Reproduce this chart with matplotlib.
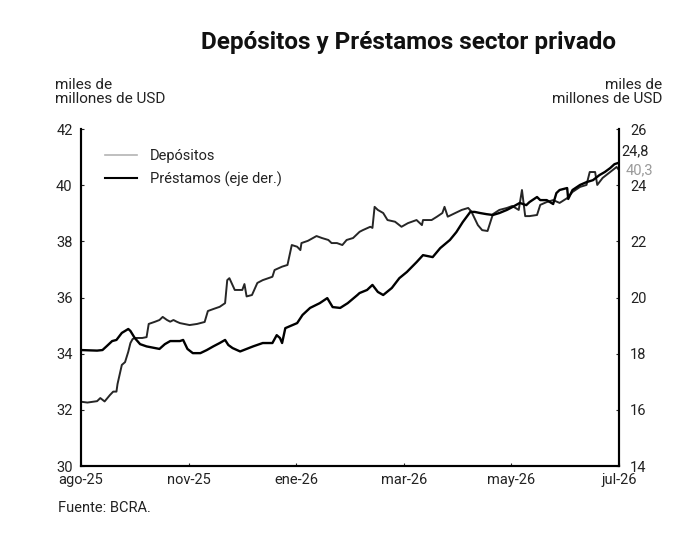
import matplotlib.pyplot as plt
from matplotlib.lines import Line2D

plt.rcParams['font.family'] = ['Roboto', 'DejaVu Sans']

# posicion en el eje x (0 = ago-25, 5 = jul-26, marcas cada dos meses)
tick_pos = [0, 1, 2, 3, 4, 5]
tick_labels = ["ago-25", "nov-25", "ene-26", "mar-26", "may-26", "jul-26"]

# Depositos (eje izq., miles de millones de USD)
dep_x = [0.00, 0.06, 0.15, 0.18, 0.22, 0.27, 0.30, 0.33, 0.34, 0.38, 0.41, 0.44, 0.46, 0.48,
         0.50, 0.57, 0.61, 0.63, 0.69, 0.73, 0.76, 0.80, 0.83, 0.86, 0.89, 0.92, 1.01, 1.08,
         1.15, 1.18, 1.23, 1.29, 1.34, 1.36, 1.38, 1.43, 1.50, 1.52, 1.54, 1.59, 1.64, 1.69,
         1.78, 1.80, 1.87, 1.92, 1.96, 2.01, 2.04, 2.05, 2.11, 2.19, 2.24, 2.30, 2.33, 2.38,
         2.43, 2.47, 2.53, 2.59, 2.62, 2.69, 2.71, 2.73, 2.76, 2.81, 2.85, 2.92, 2.98, 3.04,
         3.12, 3.17, 3.18, 3.26, 3.31, 3.36, 3.38, 3.41, 3.48, 3.54, 3.60, 3.63, 3.69, 3.73,
         3.78, 3.83, 3.89, 3.96, 4.01, 4.07, 4.10, 4.13, 4.17, 4.24, 4.27, 4.33, 4.39, 4.45,
         4.52, 4.57, 4.64, 4.70, 4.73, 4.78, 4.80, 4.85, 4.92, 4.98, 5.00]
depositos = [32.29, 32.26, 32.31, 32.42, 32.30, 32.53, 32.65, 32.65, 32.92, 33.60, 33.70, 34.07,
             34.38, 34.52, 34.56, 34.56, 34.59, 35.06, 35.14, 35.20, 35.31, 35.20, 35.14, 35.20,
             35.14, 35.09, 35.02, 35.06, 35.13, 35.52, 35.59, 35.67, 35.80, 36.62, 36.69, 36.27,
             36.27, 36.48, 36.04, 36.09, 36.52, 36.62, 36.74, 36.98, 37.10, 37.16, 37.87, 37.81,
             37.69, 37.94, 38.02, 38.19, 38.12, 38.05, 37.94, 37.94, 37.87, 38.05, 38.12, 38.34,
             38.40, 38.52, 38.48, 39.23, 39.12, 39.01, 38.76, 38.70, 38.52, 38.65, 38.76, 38.58,
             38.76, 38.76, 38.88, 39.01, 39.23, 38.88, 39.01, 39.12, 39.19, 39.06, 38.58, 38.40,
             38.37, 38.97, 39.12, 39.19, 39.26, 39.12, 39.83, 38.90, 38.90, 38.94, 39.30, 39.40,
             39.47, 39.37, 39.54, 39.76, 39.94, 40.01, 40.47, 40.47, 40.01, 40.26, 40.47, 40.65,
             40.55]

# Prestamos (eje der., miles de millones de USD)
pre_x = [0.00, 0.15, 0.20, 0.24, 0.29, 0.33, 0.38, 0.44, 0.46, 0.50, 0.55, 0.61, 0.69, 0.73,
         0.78, 0.83, 0.92, 0.95, 0.99, 1.04, 1.11, 1.17, 1.23, 1.29, 1.34, 1.37, 1.41, 1.48,
         1.54, 1.60, 1.69, 1.78, 1.82, 1.85, 1.87, 1.90, 2.01, 2.06, 2.13, 2.22, 2.29, 2.34,
         2.41, 2.48, 2.57, 2.59, 2.66, 2.71, 2.76, 2.81, 2.89, 2.96, 3.03, 3.12, 3.18, 3.27,
         3.34, 3.43, 3.49, 3.55, 3.62, 3.66, 3.71, 3.77, 3.83, 3.89, 3.96, 4.01, 4.08, 4.14,
         4.17, 4.24, 4.27, 4.33, 4.39, 4.42, 4.45, 4.52, 4.53, 4.57, 4.64, 4.70, 4.76, 4.82,
         4.87, 4.92, 4.96, 5.00]
prestamos = [18.13, 18.11, 18.13, 18.27, 18.45, 18.49, 18.74, 18.88, 18.81, 18.56, 18.34, 18.26,
             18.20, 18.17, 18.34, 18.45, 18.45, 18.49, 18.17, 18.02, 18.02, 18.13, 18.26, 18.38,
             18.49, 18.31, 18.20, 18.08, 18.17, 18.26, 18.38, 18.38, 18.66, 18.56, 18.38, 18.91,
             19.09, 19.38, 19.63, 19.80, 19.98, 19.66, 19.63, 19.80, 20.09, 20.16, 20.27, 20.45,
             20.20, 20.09, 20.34, 20.69, 20.91, 21.26, 21.51, 21.44, 21.76, 22.05, 22.33, 22.69,
             23.05, 23.05, 23.01, 22.97, 22.94, 23.01, 23.12, 23.22, 23.37, 23.29, 23.40, 23.58,
             23.47, 23.47, 23.33, 23.72, 23.83, 23.90, 23.51, 23.83, 24.01, 24.11, 24.18, 24.36,
             24.47, 24.61, 24.75, 24.80]

ultimo_dep = "40,3"
ultimo_pre = "24,8"

fig = plt.figure(figsize=(6.86, 5.4), dpi=100)
ax = fig.add_axes([0.118, 0.137, 0.784, 0.624])
ax2 = ax.twinx()

ax.plot(dep_x, depositos, color="#262626", lw=1.4, zorder=3)
ax2.plot(pre_x, prestamos, color="black", lw=1.7, zorder=3)

ax.set_xlim(0, 5)
ax.set_ylim(30, 42)
ax2.set_ylim(14, 26)
ax.set_yticks([30, 32, 34, 36, 38, 40, 42])
ax2.set_yticks([14, 16, 18, 20, 22, 24, 26])
ax.set_xticks(tick_pos)
ax.set_xticklabels(tick_labels)

for a in (ax, ax2):
    a.spines['top'].set_visible(False)
    for s in ('left', 'right', 'bottom'):
        a.spines[s].set_linewidth(1.5)
    a.tick_params(direction='in', length=2, width=0.8, labelsize=10.5, colors='#222222')
ax.tick_params(axis='y', pad=6)
ax2.tick_params(axis='y', pad=8)
ax.tick_params(axis='x', pad=5)

# leyenda (Depositos en gris claro como en el original)
handles = [Line2D([], [], color="#b4b4b4", lw=1.2), Line2D([], [], color="black", lw=1.5)]
ax.legend(handles, ["Depósitos", "Préstamos (eje der.)"], loc="upper left",
          bbox_to_anchor=(0.02, 0.98), frameon=False, fontsize=10.5, handlelength=2.2,
          handletextpad=0.9, labelspacing=0.6, labelcolor='#222222')

# ultimos valores
ax2.annotate(ultimo_pre, xy=(5, prestamos[-1]), xytext=(2, 8), textcoords='offset points',
             fontsize=10.5, color='#222222', va='center', ha='left', annotation_clip=False)
ax.annotate(ultimo_dep, xy=(5, 40.3), xytext=(5, 5), textcoords='offset points',
            fontsize=10.5, color='#9a9a9a', va='center', ha='left', annotation_clip=False)

fig.text(0.595, 0.922, "Depósitos y Préstamos sector privado", ha='center', va='center',
         fontsize=17.5, fontweight='bold', color='#111111')
fig.text(0.080, 0.830, "miles de\nmillones de USD", ha='left', va='center', fontsize=11,
         color='#222222', linespacing=1.05)
fig.text(0.965, 0.830, "miles de\nmillones de USD", ha='right', va='center', fontsize=11,
         color='#222222', linespacing=1.05, multialignment='right')
fig.text(0.085, 0.060, "Fuente: BCRA.", ha='left', va='center', fontsize=10.5, color='#222222')

fig.savefig("out.png", dpi=100)
